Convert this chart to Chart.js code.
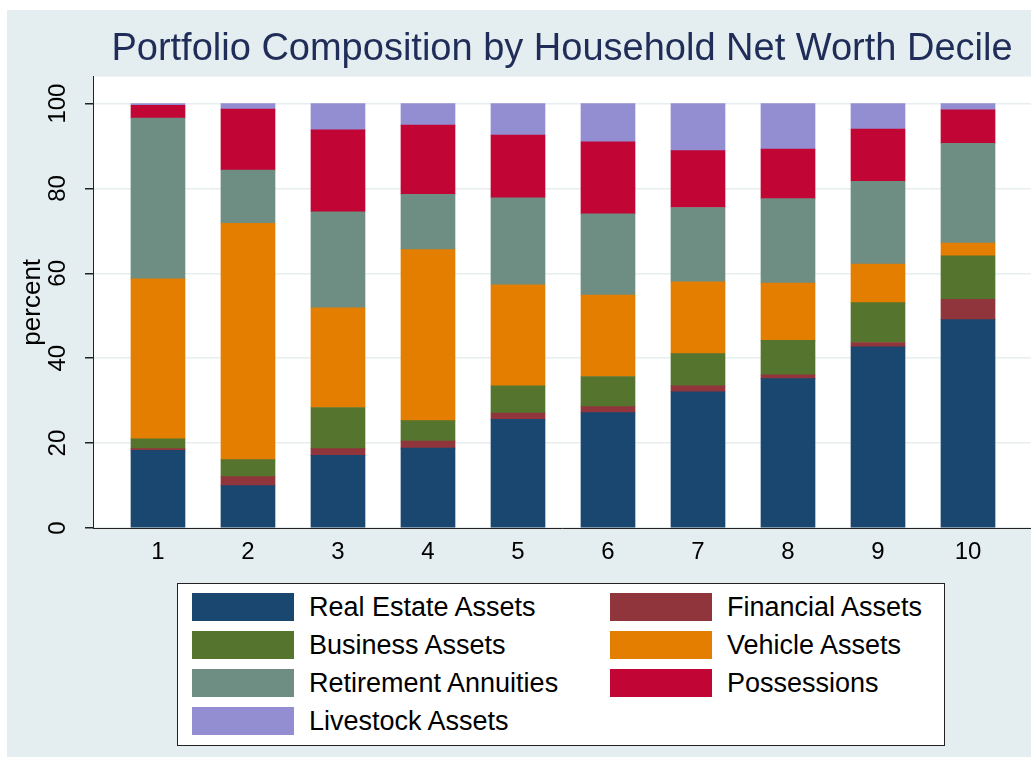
<!DOCTYPE html>
<html>
<head>
<meta charset="utf-8">
<title>Portfolio Composition by Household Net Worth Decile</title>
<script src="https://cdn.jsdelivr.net/npm/chart.js@4.4.1/dist/chart.umd.min.js"></script>
<style>
  body { margin: 0; background: #fff; font-family: "Liberation Sans", Arial, Helvetica, sans-serif; }
  #wrap { position: relative; width: 1031px; height: 757px; }
  #chart { position: absolute; left: 0; top: 0; }
  #legend { position: absolute; left: 177px; top: 583px; width: 766px; height: 161px; border: 1px solid #222; background: #fff; }
  .item { position: absolute; display: flex; align-items: center; height: 28px; font-size: 27px; color: #000; white-space: nowrap; }
  .sw { width: 102px; height: 28px; margin-right: 15px; }
</style>
</head>
<body>
<div id="wrap">
  <canvas id="chart" width="1031" height="757"></canvas>
  <div id="legend"></div>
</div>
<script>
const deciles = [1, 2, 3, 4, 5, 6, 7, 8, 9, 10];
const yTicks = [0, 20, 40, 60, 80, 100];

// shares in percent, stacked bottom -> top
const realEstate  = [18.3, 10.0, 17.1, 18.8, 25.6, 27.2, 32.1, 35.2, 42.7, 49.1];
const financial   = [0.4, 2.1, 1.6, 1.7, 1.5, 1.4, 1.4, 0.9, 1.0, 4.8];
const business    = [2.3, 4.0, 9.7, 4.8, 6.4, 7.1, 7.6, 8.1, 9.4, 10.2];
const vehicle     = [37.7, 55.7, 23.5, 40.3, 23.8, 19.2, 16.9, 13.5, 9.1, 3.0];
const retirement  = [37.9, 12.5, 22.6, 13.0, 20.5, 19.1, 17.5, 19.9, 19.5, 23.5];
const possessions = [3.0, 14.4, 19.3, 16.3, 14.8, 17.0, 13.4, 11.7, 12.3, 7.9];
const livestock   = [0.4, 1.3, 6.2, 5.1, 7.4, 9.0, 11.1, 10.7, 6.0, 1.5];

const seriesNames = ['Real Estate Assets', 'Financial Assets', 'Business Assets', 'Vehicle Assets',
                     'Retirement Annuities', 'Possessions', 'Livestock Assets'];
const seriesData = [realEstate, financial, business, vehicle, retirement, possessions, livestock];
const seriesColors = ['#1a476f', '#90353b', '#55752f', '#e37e00', '#6e8e84', '#c10534', '#938dd2'];

const FONT = '"Liberation Sans", Arial, Helvetica, sans-serif';
const BG = '#e4edef';

const datasets = seriesNames.map((name, i) => ({
  label: name,
  data: deciles.map((d, j) => ({ x: d, y: seriesData[i][j] })),
  backgroundColor: seriesColors[i],
  borderWidth: 0,
  barThickness: 54
}));

// stata-ish backdrop: outer grey region + white plot region
const backdrop = {
  id: 'backdrop',
  beforeDraw(chart) {
    const { ctx, chartArea: a } = chart;
    ctx.save();
    ctx.fillStyle = '#fff';
    ctx.fillRect(0, 0, chart.width, chart.height);
    ctx.fillStyle = BG;
    ctx.fillRect(7, 10, chart.width - 7, chart.height - 10);
    ctx.fillStyle = '#fff';
    ctx.fillRect(a.left, a.top, a.right - a.left, a.bottom - a.top);
    ctx.restore();
  }
};

new Chart(document.getElementById('chart'), {
  type: 'bar',
  data: { datasets },
  plugins: [backdrop],
  options: {
    responsive: false,
    animation: false,
    layout: { padding: { top: 10, left: 0, right: 0, bottom: 169 } },
    plugins: {
      legend: { display: false },
      tooltip: { enabled: false },
      title: {
        display: true,
        text: 'Portfolio Composition by Household Net Worth Decile',
        fullSize: false,
        color: '#1f2d58',
        font: { family: FONT, size: 38, weight: 'normal', lineHeight: 1.2 },
        padding: { top: 17, bottom: 4 }
      }
    },
    scales: {
      x: {
        type: 'linear',
        stacked: true,
        offset: false,
        min: 0.278,
        max: 10.7,
        afterBuildTicks: s => { s.ticks = deciles.map(v => ({ value: v })); },
        afterFit: s => { s.height = 60; },
        grid: { display: false, drawTicks: false },
        border: { display: true, color: '#222', width: 1 },
        ticks: { color: '#000', padding: 10, font: { family: FONT, size: 24 } }
      },
      y: {
        stacked: true,
        min: 0,
        max: 106.35,
        afterBuildTicks: s => { s.ticks = yTicks.map(v => ({ value: v })); },
        afterFit: s => { s.width = 93; },
        grid: { color: '#e6eef0', lineWidth: 1.5, tickColor: '#222', tickLength: 8 },
        border: { display: true, color: '#222', width: 1 },
        ticks: { color: '#000', minRotation: 90, maxRotation: 90, crossAlign: 'center', padding: 7,
                 font: { family: FONT, size: 24 } },
        title: { display: true, text: 'percent', color: '#000', padding: { top: 17 },
                 font: { family: FONT, size: 26 } }
      }
    }
  }
});

// two-column legend, filled row by row like the original
const legend = document.getElementById('legend');
seriesNames.forEach((name, i) => {
  const row = Math.floor(i / 2), col = i % 2;
  const el = document.createElement('div');
  el.className = 'item';
  el.style.left = (col ? 432 : 14) + 'px';
  el.style.top = (9 + row * 38) + 'px';
  el.innerHTML = `<div class="sw" style="background:${seriesColors[i]}"></div><span>${name}</span>`;
  legend.appendChild(el);
});
</script>
</body>
</html>
